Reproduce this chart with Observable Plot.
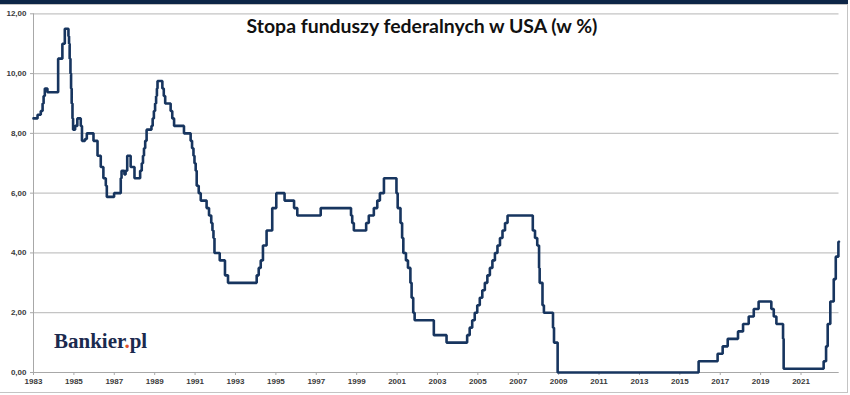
<!DOCTYPE html>
<html>
<head>
<meta charset="utf-8">
<script src="https://cdn.jsdelivr.net/npm/d3@7"></script>
<script src="https://cdn.jsdelivr.net/npm/@observablehq/plot@0.6"></script>
<style>
  html, body { margin: 0; padding: 0; background: #fff; }
  #wrap { position: relative; width: 850px; height: 395px; overflow: hidden; background: #fff; }
  #topbar { position: absolute; left: 0; top: 0; width: 848px; height: 4px; background: #0d2647; }
  #frame { position: absolute; left: -2px; top: 4px; width: 848px; height: 387px; border: 1px solid #c4c4c4; box-sizing: content-box; }
  #chart { position: absolute; left: 0; top: 0; }
  #overlay { position: absolute; left: 0; top: 0; pointer-events: none; }
</style>
</head>
<body>
<div id="wrap">
  <div id="topbar"></div>
  <div id="frame"></div>
  <div id="chart"></div>
  <svg id="overlay" width="850" height="395">
    <text id="title" x="422" y="32.5" text-anchor="middle" font-family="Lato" font-weight="700" font-size="19" fill="#111">Stopa funduszy federalnych w USA (w %)</text>
    <text x="54" y="348" font-family="Liberation Serif" font-weight="700" font-size="21" fill="#1b2a4e">Bankier<tspan fill="#e0522b">.</tspan>pl</text>
  </svg>
</div>
<script>
// Dates of rate changes (fractional years) and the federal funds rate (%) from that date on
const dates = [
  1983.00, 1983.20, 1983.36, 1983.45, 1983.50, 1983.56, 1983.69,
  1984.22, 1984.43, 1984.55, 1984.73, 1984.76, 1984.79, 1984.83, 1984.86, 1984.89, 1984.93, 1984.96,
  1985.06, 1985.17, 1985.34, 1985.40, 1985.55, 1985.64, 1985.97,
  1986.17, 1986.33, 1986.46, 1986.58, 1986.63, 1986.99,
  1987.32, 1987.36, 1987.50, 1987.56, 1987.64, 1987.81,
  1988.00, 1988.28, 1988.36, 1988.42, 1988.47, 1988.53, 1988.60, 1988.84, 1988.90, 1988.96,
  1989.02, 1989.07, 1989.11, 1989.14, 1989.38, 1989.45, 1989.52, 1989.79, 1989.87, 1989.96,
  1990.45, 1990.78, 1990.85, 1990.92, 1990.97,
  1991.03, 1991.08, 1991.18, 1991.28, 1991.57, 1991.69, 1991.80, 1991.86, 1991.91, 1991.96,
  1992.22, 1992.48, 1992.63,
  1994.05, 1994.15, 1994.25, 1994.36, 1994.54, 1994.82,
  1995.02, 1995.43, 1995.90, 1996.06, 1997.22,
  1998.72, 1998.78, 1998.86, 1999.47, 1999.60, 1999.85,
  2000.02, 2000.15, 2000.35, 2000.97,
  2001.03, 2001.17, 2001.25, 2001.31, 2001.44, 2001.54, 2001.66, 2001.72, 2001.80, 2001.87,
  2002.82, 2003.45,
  2004.47, 2004.595, 2004.72, 2004.845, 2004.97, 2005.095, 2005.22, 2005.345, 2005.47,
  2005.595, 2005.72, 2005.845, 2005.97, 2006.095, 2006.22, 2006.345, 2006.47,
  2007.72, 2007.83, 2007.94, 2008.03, 2008.06, 2008.20, 2008.27, 2008.72, 2008.77, 2008.95,
  2015.93, 2016.87, 2017.12, 2017.37, 2017.88, 2018.13, 2018.41, 2018.66, 2018.90,
  2019.53, 2019.65, 2019.78, 2020.11, 2020.14,
  2022.12, 2022.24, 2022.32, 2022.45, 2022.62, 2022.72, 2022.85, 2022.88
];
const rates = [
  8.50, 8.625, 8.75, 9.0, 9.25, 9.5, 9.375,
  10.5, 11.0, 11.5, 11.25, 11.0, 10.5, 10.0, 9.5, 9.0, 8.5, 8.125,
  8.25, 8.5, 8.25, 7.75, 7.8125, 8.0, 7.75,
  7.25, 6.875, 6.5, 6.25, 5.875, 6.0,
  6.5, 6.75, 6.625, 6.75, 7.25, 6.875,
  6.5, 6.75, 7.0, 7.25, 7.5, 7.75, 8.125, 8.25, 8.5, 8.75,
  9.0, 9.25, 9.5, 9.75, 9.5, 9.25, 9.0, 8.75, 8.5, 8.25,
  8.0, 7.75, 7.5, 7.25, 7.0,
  6.75, 6.25, 6.0, 5.75, 5.5, 5.25, 5.0, 4.75, 4.5, 4.0,
  3.75, 3.25, 3.0,
  3.25, 3.5, 3.75, 4.25, 4.75, 5.5,
  6.0, 5.75, 5.5, 5.25, 5.5,
  5.25, 5.0, 4.75, 5.0, 5.25, 5.5,
  5.75, 6.0, 6.5, 6.0,
  5.5, 5.0, 4.5, 4.0, 3.75, 3.5, 3.0, 2.5, 2.0, 1.75,
  1.25, 1.0,
  1.25, 1.5, 1.75, 2.0, 2.25, 2.5, 2.75, 3.0, 3.25,
  3.5, 3.75, 4.0, 4.25, 4.5, 4.75, 5.0, 5.25,
  4.75, 4.5, 4.25, 3.5, 3.0, 2.25, 2.0, 1.5, 1.0, 0.0,
  0.375, 0.625, 0.875, 1.125, 1.375, 1.625, 1.875, 2.125, 2.375,
  2.125, 1.875, 1.625, 1.125, 0.125,
  0.375, 0.875, 1.625, 2.375, 3.125, 3.875, 4.375, 4.375
];
const xTicks = [1983, 1985, 1987, 1989, 1991, 1993, 1995, 1997, 1999, 2001, 2003, 2005, 2007, 2009, 2011, 2013, 2015, 2017, 2019, 2021];
const yTicks = [0, 2, 4, 6, 8, 10, 12];

const data = dates.map((t, i) => ({t, v: rates[i]}));
const fmtY = d => d.toFixed(2).replace(".", ",");

const chart = Plot.plot({
  width: 850,
  height: 395,
  marginLeft: 33,
  marginRight: 11.5,
  marginTop: 13.3,
  marginBottom: 23,
  style: {fontFamily: "Liberation Sans", fontSize: "8px", fontWeight: "bold", color: "#3a3a3a", background: "transparent"},
  x: {domain: [1983, 2022.88]},
  y: {domain: [0, 12]},
  marks: [
    Plot.gridY(yTicks, {stroke: "#c4c4c4", strokeOpacity: 1, strokeWidth: 1.2}),
    Plot.ruleX([1983], {stroke: "#a8a8a8", strokeWidth: 1}),
    Plot.ruleY([0], {stroke: "#a8a8a8", strokeWidth: 1.2}),
    Plot.axisY(yTicks, {tickSize: 3, tickPadding: 4, tickFormat: fmtY, stroke: "#a8a8a8", label: null}),
    Plot.axisX(xTicks, {tickSize: 3, tickPadding: 3, tickFormat: d => String(d), stroke: "#a8a8a8", label: null}),
    Plot.line(data, {x: "t", y: "v", curve: "step-after", stroke: "#17355f", strokeWidth: 2.6, strokeLinejoin: "miter"})
  ]
});
document.getElementById("chart").appendChild(chart);

// fit the title to the reference width
const title = document.getElementById("title");
const w = title.getComputedTextLength();
if (w > 0) title.setAttribute("font-size", (19 * 351 / w).toFixed(2));
</script>
</body>
</html>
